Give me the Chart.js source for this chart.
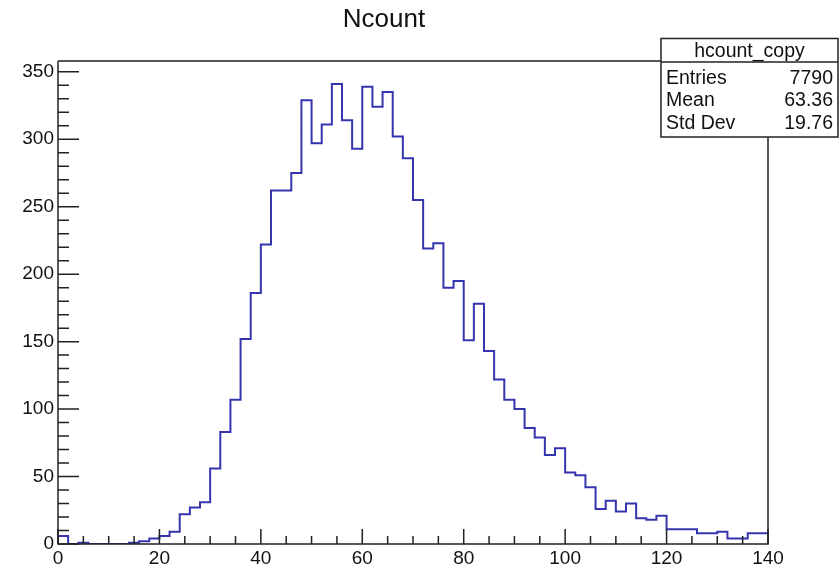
<!DOCTYPE html>
<html>
<head>
<meta charset="utf-8">
<script src="https://cdn.jsdelivr.net/npm/chart.js@4.4.1/dist/chart.umd.min.js"></script>
<style>
    html, body { margin: 0; padding: 0; background: #fff; }
    #wrap { width: 839px; height: 567px; }
</style>
</head>
<body>
<div id="wrap"><canvas id="histCanvas" width="839" height="567"></canvas></div>
<script>
// histogram "hcount_copy": 70 bins of width 2 from 0 to 140
const binLow = 0;
const binWidth = 2;
const binCounts = [
    6, 0, 1, 0, 0, 0, 0, 1, 2, 4,
    6, 9, 22, 27, 31, 56, 83, 107, 152, 186,
    222, 262, 262, 275, 329, 297, 311, 341, 314, 293,
    339, 324, 335, 302, 286, 255, 219, 223, 190, 195,
    151, 178, 143, 122, 107, 100, 86, 79, 66, 71,
    53, 51, 42, 26, 32, 24, 30, 19, 18, 21,
    11, 11, 11, 8, 8, 9, 4, 4, 8, 8
];
const xRange = [0, 140];
const yRange = [0, 358];
const xLabelTicks = [0, 20, 40, 60, 80, 100, 120, 140];
const yLabelTicks = [0, 50, 100, 150, 200, 250, 300, 350];
const statsTitle = "hcount_copy";
const statsNames = ["Entries", "Mean", "Std Dev"];
const statsValues = ["7790", "63.36", "19.76"];

const lineColor = '#3535b0';
const fontFamily = '"Liberation Sans", Arial, Helvetica, sans-serif';

// step points: left edge of every bin, plus the closing edge
const histPoints = [{ x: binLow, y: 0 }];
binCounts.forEach((c, i) => histPoints.push({ x: binLow + i * binWidth, y: c }));
histPoints.push({ x: binLow + binCounts.length * binWidth, y: binCounts[binCounts.length - 1] });

// ROOT-like frame with ticks pointing into the plot
const framePlugin = {
    id: 'rootFrame',
    afterDatasetsDraw(chart) {
        const ctx = chart.ctx;
        const a = chart.chartArea;
        const xs = chart.scales.x;
        const ys = chart.scales.y;
        ctx.save();
        ctx.lineWidth = 1.5;
        ctx.strokeStyle = '#222';
        ctx.beginPath();
        ctx.moveTo(a.left, a.top);
        ctx.lineTo(a.left, a.bottom);
        ctx.lineTo(a.right, a.bottom);
        ctx.lineTo(a.right, a.top);
        ctx.stroke();
        ctx.strokeStyle = '#555';
        ctx.lineWidth = 2;
        ctx.beginPath();
        ctx.moveTo(a.left, a.top);
        ctx.lineTo(a.right, a.top);
        ctx.stroke();

        ctx.strokeStyle = '#222';
        ctx.lineWidth = 1.5;
        ctx.beginPath();
        ys.ticks.forEach(t => {
            const py = ys.getPixelForValue(t.value);
            const len = yLabelTicks.includes(t.value) ? 21 : 11;
            ctx.moveTo(a.left, py);
            ctx.lineTo(a.left + len, py);
        });
        xs.ticks.forEach(t => {
            const px = xs.getPixelForValue(t.value);
            const len = xLabelTicks.includes(t.value) ? 15 : 8;
            ctx.moveTo(px, a.bottom);
            ctx.lineTo(px, a.bottom - len);
        });
        ctx.stroke();
        ctx.restore();
    },
    afterDraw(chart) {
        // statistics box in the top right corner
        const ctx = chart.ctx;
        const left = 661, right = 838, top = 38.5, bottom = 137, sep = 62;
        ctx.save();
        ctx.fillStyle = '#fff';
        ctx.fillRect(left, top, right - left, bottom - top);
        ctx.strokeStyle = '#222';
        ctx.lineWidth = 1.5;
        ctx.strokeRect(left, top, right - left, bottom - top);
        ctx.beginPath();
        ctx.moveTo(left, sep);
        ctx.lineTo(right, sep);
        ctx.stroke();

        ctx.fillStyle = '#111';
        ctx.font = '19.5px ' + fontFamily;
        ctx.textBaseline = 'alphabetic';
        ctx.textAlign = 'center';
        ctx.fillText(statsTitle, (left + right) / 2, 57);
        const baselines = [84, 106, 129];
        statsNames.forEach((name, i) => {
            ctx.textAlign = 'left';
            ctx.fillText(name, left + 5, baselines[i]);
            ctx.textAlign = 'right';
            ctx.fillText(statsValues[i], right - 5, baselines[i]);
        });
        ctx.restore();
    }
};

new Chart(document.getElementById('histCanvas'), {
    type: 'line',
    data: {
        datasets: [{
            label: statsTitle,
            data: histPoints,
            stepped: true,
            borderColor: lineColor,
            borderWidth: 2,
            pointRadius: 0,
            fill: false,
            tension: 0
        }]
    },
    options: {
        responsive: false,
        animation: false,
        layout: { padding: { left: 0, right: 71, top: 0, bottom: 0 } },
        plugins: {
            legend: { display: false },
            tooltip: { enabled: false },
            title: {
                display: true,
                text: 'Ncount',
                color: '#111',
                font: { family: fontFamily, size: 26, weight: 'normal' },
                padding: { top: 4, bottom: 25.8 }
            }
        },
        scales: {
            x: {
                type: 'linear',
                min: xRange[0],
                max: xRange[1],
                grid: { display: false, drawTicks: false },
                border: { display: false },
                afterBuildTicks(scale) {
                    scale.ticks = scale.ticks.filter(t => t.value % 5 === 0);
                },
                afterFit(scale) { scale.height = 23; },
                ticks: {
                    stepSize: 5,
                    autoSkip: false,
                    includeBounds: false,
                    maxRotation: 0,
                    padding: 3,
                    color: '#111',
                    font: { family: fontFamily, size: 19 },
                    callback: v => xLabelTicks.includes(v) ? String(v) : ''
                }
            },
            y: {
                type: 'linear',
                min: yRange[0],
                max: yRange[1],
                grid: { display: false, drawTicks: false },
                border: { display: false },
                afterBuildTicks(scale) {
                    scale.ticks = scale.ticks.filter(t => t.value % 10 === 0);
                },
                afterFit(scale) { scale.width = 58; },
                ticks: {
                    stepSize: 10,
                    autoSkip: false,
                    includeBounds: false,
                    padding: 4,
                    color: '#111',
                    font: { family: fontFamily, size: 19 },
                    callback: v => yLabelTicks.includes(v) ? String(v) : ''
                }
            }
        }
    },
    plugins: [framePlugin]
});
</script>
</body>
</html>
